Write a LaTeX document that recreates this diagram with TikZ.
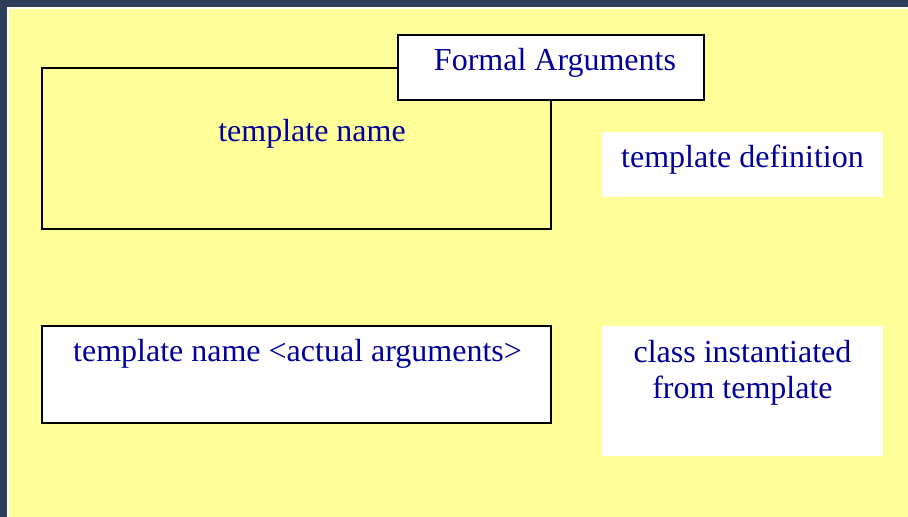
\documentclass[tikz,border=0pt]{standalone}
\usepackage{fontspec}
\setmainfont{Liberation Serif}
\definecolor{slideblue}{RGB}{44, 62, 90}
\definecolor{slideyellow}{RGB}{255, 255, 153}
\definecolor{textblue}{RGB}{0, 0, 153}
\usetikzlibrary{positioning}

\begin{document}
\begin{tikzpicture}[x=0.75pt, y=-0.75pt,
  outlinebox/.style={draw=black, line width=1pt, inner sep=0pt},
  plainbox/.style={fill=white, inner sep=0pt},
  boxtext/.style={text=textblue, font=\fontsize{24}{26.4}\selectfont, anchor=base, align=center, inner sep=0pt}]

  % Slide background
  \fill[slideblue] (0,0) rectangle (908,517);
  \fill[white] (6.5,7.5) rectangle (908,517);
  \fill[slideyellow] (9,9.5) rectangle (908,517);
  \useasboundingbox (0,0) rectangle (908,517);

  % Template definition
  \node[outlinebox, fill=slideyellow, minimum width=381.75pt, minimum height=120.75pt] (tplbox) at (296.5,148.5) {};
  \node[boxtext] (tplname) at (312,141.5) {template name};
  \node[outlinebox, fill=white, minimum width=229.5pt, minimum height=48.75pt] (formalbox) at (551,67.5) {};
  \node[boxtext] (formaltext) at (555,71) {Formal Arguments};

  \node[plainbox, minimum width=210.75pt, minimum height=48.75pt] (defbox) at (742.5,164.5) {};
  \node[boxtext] (deftext) at (742.5,167.5) {template definition};

  % Instantiation
  \node[outlinebox, fill=white, minimum width=381.75pt, minimum height=72.75pt] (actbox) at (296.5,374.5) {};
  \node[boxtext] (acttext) at (297.5,361) {template name <actual arguments>};

  \node[plainbox, minimum width=210.75pt, minimum height=97.5pt] (classbox) at (742.5,391) {};
  \node[boxtext] (classtext) at (742.5,398) {class instantiated\\from template};
\end{tikzpicture}
\end{document}
